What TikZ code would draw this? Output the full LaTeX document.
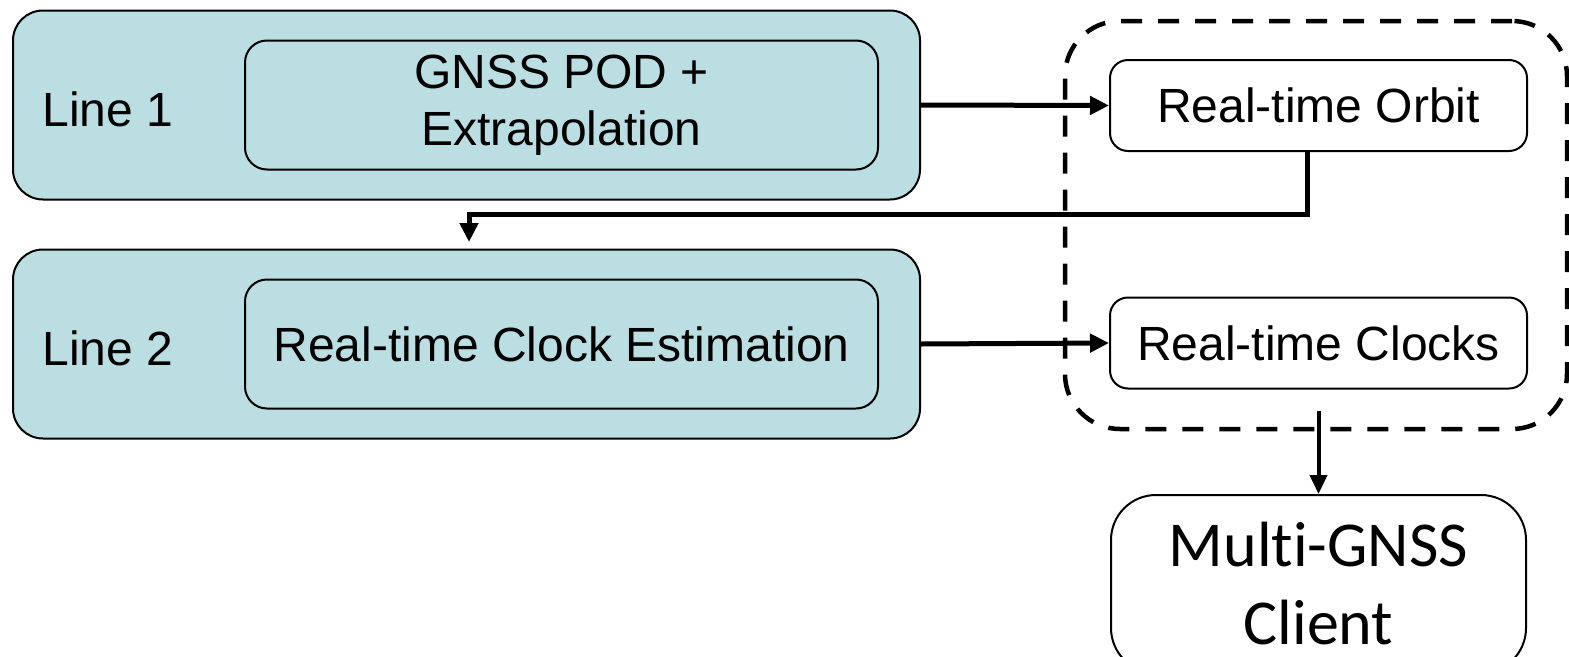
\documentclass[tikz,border=0pt]{standalone}
\usepackage{fontspec}
\setmainfont{Liberation Sans}
\newfontfamily\clientfont[Ligatures={NoCommon,NoContextual}]{Carlito}
\usetikzlibrary{arrows.meta}
\definecolor{boxblue}{RGB}{186,222,226}
\tikzset{
  outerbox/.style={draw=black, line width=2pt, fill=boxblue, rounded corners=30pt, minimum width=907pt, minimum height=189pt, inner sep=0pt},
  innerbox/.style={draw=black, line width=2pt, fill=boxblue, rounded corners=22pt, minimum width=633pt, minimum height=129pt, inner sep=0pt, align=center, font=\fontsize{48}{57}\selectfont},
  outbox/.style={draw=black, line width=2pt, fill=white, rounded corners=18pt, minimum width=417pt, minimum height=91pt, inner sep=0pt, font=\fontsize{48}{57}\selectfont},
  clientbox/.style={draw=black, line width=2pt, fill=white, rounded corners=45pt, minimum width=415pt, minimum height=178pt, inner sep=0pt, align=center, font=\clientfont\fontsize{64}{78}\selectfont},
  linelabel/.style={inner sep=0pt, font=\fontsize{48}{57}\selectfont},
  conn/.style={line width=5pt, -{Triangle[length=19pt,width=18pt]}},
  groupbox/.style={draw=black, line width=4.5pt, dash pattern=on 21pt off 16pt, rounded corners=55pt, minimum width=502pt, minimum height=408pt, inner sep=0pt}
}
\begin{document}
\begin{tikzpicture}[x=1pt,y=-1pt]
\useasboundingbox (0,0) rectangle (1569,656);
\clip (0,0) rectangle (1569,656);
\fill[white] (0,0) rectangle (1569,656);
% left column
\node[outerbox] (out1) at (466.5,105) {};
\node[innerbox] (in1) at (561.5,105) {GNSS POD +\\Extrapolation};
\node[linelabel] (l1) at (108,109) {Line 1};
\node[outerbox] (out2) at (466.5,344) {};
\node[innerbox] (in2) at (561.5,344) {Real-time Clock Estimation};
\node[linelabel] (l2) at (108,348) {Line 2};
% right column
\node[groupbox] (grp) at (1316,225) {};
\node[outbox] (orbit) at (1318.5,105.5) {Real-time Orbit};
\node[outbox] (clocks) at (1318.5,343) {Real-time Clocks};
\node[clientbox] (client) at (1318.5,584) {Mult\kern0pt i-GNSS\\Client};
% connectors
\coordinate (c2) at (469,242);
\draw[conn] (out1.east) -- (orbit.west);
\draw[conn] ([xshift=-11pt]orbit.south) -- ++(0,62) -| (c2);
\draw[conn] (out2.east) -- (clocks.west);
\draw[line width=4pt, -{Triangle[length=19pt,width=17pt]}] ([yshift=-21pt]clocks.south) -- (client.north);
\end{tikzpicture}
\end{document}
